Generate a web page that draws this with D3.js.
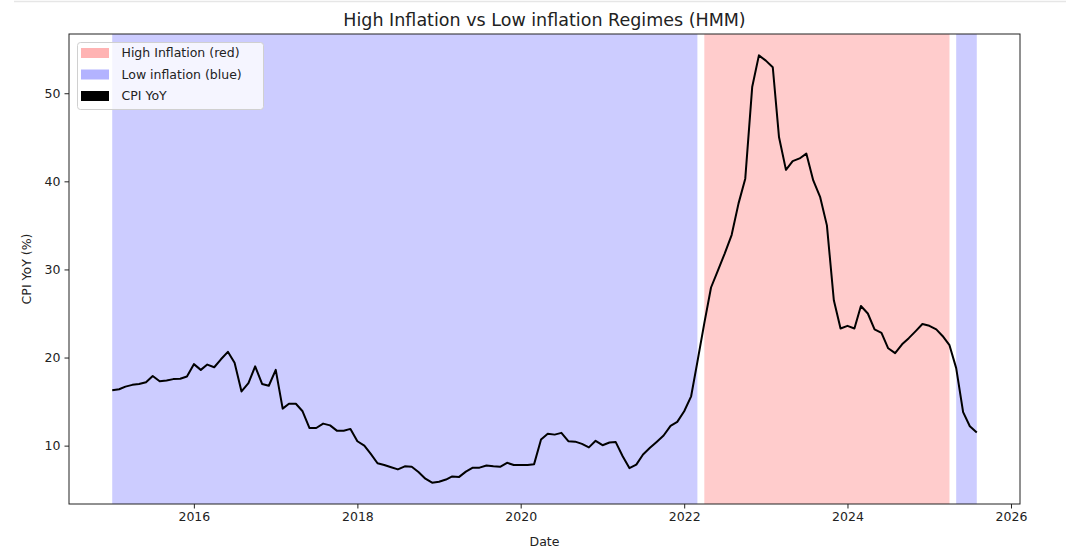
<!DOCTYPE html>
<html>
<head>
<meta charset="utf-8">
<script src="https://cdn.jsdelivr.net/npm/d3@7"></script>
<style>
  html, body { margin: 0; padding: 0; background: #fff; }
  svg { display: block; }
  text { font-family: "DejaVu Sans", sans-serif; fill: #222; }
</style>
</head>
<body>
<svg id="chart" width="1080" height="555"></svg>
<script>
// ---- data ----
const startMonth = "2015-01-01";
const cpiYoY = [
  16.3, 16.4, 16.7, 16.9, 17.0, 17.2, 17.9, 17.3, 17.4, 17.55, 17.6, 17.85,
  19.25, 18.6, 19.2, 18.9, 19.8, 20.65, 19.4, 16.15, 17.1, 19.0, 17.0, 16.8,
  18.6, 14.2, 14.75, 14.75, 13.9, 12.0, 12.0, 12.5, 12.3, 11.7, 11.7, 11.9,
  10.5, 10.0, 9.1, 8.0, 7.8, 7.55, 7.3, 7.65, 7.6, 7.0, 6.25, 5.8,
  5.9, 6.15, 6.5, 6.45, 7.05, 7.5, 7.5, 7.75, 7.65, 7.6, 8.05, 7.8,
  7.8, 7.8, 7.9, 10.7, 11.35, 11.25, 11.45, 10.5, 10.45, 10.2, 9.8, 10.55,
  10.05, 10.35, 10.4, 8.8, 7.45, 7.85, 9.0, 9.75, 10.45, 11.15, 12.25, 12.7,
  13.9, 15.6, 19.5, 23.9, 27.95, 29.9, 31.8, 33.9, 37.5, 40.3, 50.7, 54.3,
  53.7, 52.95, 45.0, 41.3, 42.3, 42.6, 43.15, 40.1, 38.2, 35.0, 26.5, 23.3,
  23.6, 23.3, 25.85, 25.0, 23.2, 22.8, 21.05, 20.5, 21.5, 22.2, 23.0, 23.8,
  23.6, 23.2, 22.45, 21.4, 18.8, 13.8, 12.2, 11.5
];
const regimeStarts = ["2015-01-01", "2022-04-01", "2025-05-01"];
const regimeEnds   = ["2022-03-01", "2025-04-01", "2025-08-01"];
const regimeTypes  = ["low", "high", "low"];
const yTicks = [10, 20, 30, 40, 50];
const xTickYears = [2016, 2018, 2020, 2022, 2024, 2026];
const legendLabels = ["High Inflation (red)", "Low inflation (blue)", "CPI YoY"];

// ---- layout ----
const svg = d3.select("#chart");
const m = { left: 69, right: 1020, top: 34, bottom: 504 };
const parse = d3.utcParse("%Y-%m-%d");
const t0 = parse(startMonth);
const data = cpiYoY.map((v, i) => ({ date: d3.utcMonth.offset(t0, i), v }));

const xExt = d3.extent(data, d => +d.date);
const xPad = (xExt[1] - xExt[0]) * 0.05;
const x = d3.scaleUtc()
  .domain([new Date(xExt[0] - xPad), new Date(xExt[1] + xPad)])
  .range([m.left, m.right]);
const yExt = d3.extent(cpiYoY);
const yPad = (yExt[1] - yExt[0]) * 0.05;
const y = d3.scaleLinear()
  .domain([yExt[0] - yPad, yExt[1] + yPad])
  .range([m.bottom, m.top]);

const spanFill = { low: "#ccccff", high: "#ffcccc" };
const legendFill = { low: "#b3b3ff", high: "#ffb3b3" };

// faint notebook cell border at top
svg.append("line").attr("x1", 14).attr("x2", 1066).attr("y1", 1.5).attr("y2", 1.5)
  .attr("stroke", "#e6e6e6").attr("stroke-width", 1.5);

// regime spans
svg.append("g").selectAll("rect")
  .data(regimeStarts.map((s, i) => ({ s: parse(s), e: parse(regimeEnds[i]), t: regimeTypes[i] })))
  .join("rect")
  .attr("x", d => x(d.s))
  .attr("width", d => x(d.e) - x(d.s))
  .attr("y", m.top)
  .attr("height", m.bottom - m.top)
  .attr("fill", d => spanFill[d.t]);

// line
svg.append("path")
  .datum(data)
  .attr("fill", "none")
  .attr("stroke", "#000")
  .attr("stroke-width", 2)
  .attr("stroke-linejoin", "round")
  .attr("d", d3.line().x(d => x(d.date)).y(d => y(d.v)));

// axes
const xAxis = d3.axisBottom(x)
  .tickValues(xTickYears.map(yr => new Date(Date.UTC(yr, 0, 1))))
  .tickFormat(d3.utcFormat("%Y"))
  .tickSize(4.5).tickPadding(4);
const gx = svg.append("g").attr("transform", `translate(0,${m.bottom})`).call(xAxis);
const yAxis = d3.axisLeft(y).tickValues(yTicks).tickSize(4.5).tickPadding(4);
const gy = svg.append("g").attr("transform", `translate(${m.left},0)`).call(yAxis);
[gx, gy].forEach(g => {
  g.select(".domain").remove();
  g.selectAll(".tick line").attr("stroke", "#222").attr("stroke-width", 1);
  g.selectAll(".tick text").attr("font-size", 12.5).attr("fill", "#222")
    .style("font-family", "'DejaVu Sans', sans-serif");
});

// frame
svg.append("rect")
  .attr("x", m.left).attr("y", m.top)
  .attr("width", m.right - m.left).attr("height", m.bottom - m.top)
  .attr("fill", "none").attr("stroke", "#222").attr("stroke-width", 1);

// title & labels
svg.append("text").attr("x", (m.left + m.right) / 2).attr("y", 26)
  .attr("text-anchor", "middle").attr("font-size", 17.5)
  .text("High Inflation vs Low inflation Regimes (HMM)");
svg.append("text").attr("x", (m.left + m.right) / 2).attr("y", 546)
  .attr("text-anchor", "middle").attr("font-size", 12.5).text("Date");
svg.append("text")
  .attr("transform", `translate(31,${(m.top + m.bottom) / 2}) rotate(-90)`)
  .attr("text-anchor", "middle").attr("font-size", 12.5).text("CPI YoY (%)");

// legend
const lg = svg.append("g").attr("transform", "translate(77.5,42.5)");
lg.append("rect").attr("width", 186).attr("height", 67).attr("rx", 3)
  .attr("fill", "#fff").attr("fill-opacity", 0.8)
  .attr("stroke", "#d0d0d0").attr("stroke-width", 1);
const legendColors = [legendFill.high, legendFill.low, "#000"];
legendLabels.forEach((lab, i) => {
  const cy = 10.5 + i * 21.5;
  lg.append("rect").attr("x", 3.5).attr("y", cy - 5).attr("width", 28).attr("height", 10)
    .attr("fill", legendColors[i]);
  lg.append("text").attr("x", 44).attr("y", cy).attr("dy", "0.35em")
    .attr("font-size", 12.5).text(lab);
});
</script>
</body>
</html>
